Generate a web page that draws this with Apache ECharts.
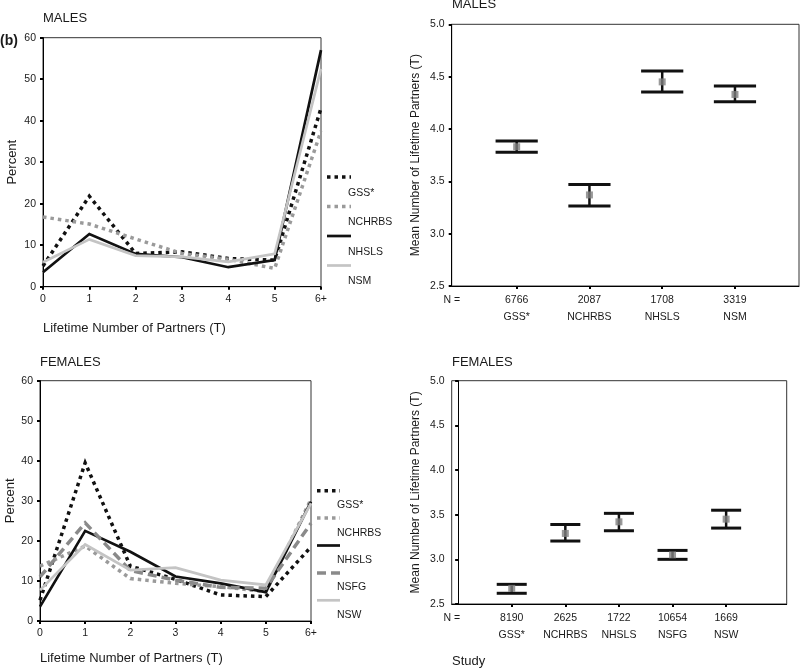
<!DOCTYPE html>
<html>
<head>
<meta charset="utf-8">
<script src="https://cdn.jsdelivr.net/npm/echarts@6/dist/echarts.min.js"></script>
<style>html,body{margin:0;padding:0;background:#fff}#c{width:800px;height:669px}</style>
</head>
<body>
<div id="c"></div>
<script>
// ---------- DATA ----------
const partnerCats = ['0','1','2','3','4','5','6+'];
const percentTicks = [0,10,20,30,40,50,60];

const maleGSS    = [5.0, 21.8, 8.0, 8.4, 6.8, 6.4, 43.0];
const maleNCHRBS = [16.8, 15.1, 11.5, 8.0, 6.6, 4.4, 37.5];
const maleNHSLS  = [3.5, 12.7, 7.9, 7.1, 4.7, 6.4, 57.0];
const maleNSM    = [5.9, 11.4, 7.5, 7.2, 6.0, 7.9, 52.5];

const femaleGSS    = [5.2, 39.5, 13.7, 10.4, 6.5, 6.1, 18.5];
const femaleNCHRBS = [13.7, 18.7, 10.6, 9.4, 8.6, 7.3, 30.4];
const femaleNHSLS  = [3.6, 22.5, 17.3, 11.1, 9.4, 7.2, 29.8];
const femaleNSFG   = [11.0, 24.5, 12.6, 10.2, 8.4, 8.2, 24.4];
const femaleNSW    = [7.7, 19.1, 12.7, 13.3, 10.2, 9.0, 29.4];

const maleStudies = ['GSS*','NCHRBS','NHSLS','NSM'];
const maleN       = ['6766','2087','1708','3319'];
const maleMean    = [3.83, 3.37, 4.45, 4.33];
const maleLow     = [3.777, 3.265, 4.354, 4.26];
const maleHigh    = [3.885, 3.47, 4.555, 4.41];

const femaleStudies = ['GSS*','NCHRBS','NHSLS','NSFG','NSW'];
const femaleN       = ['8190','2625','1722','10654','1669'];
const femaleMean    = [2.675, 3.29, 3.42, 3.05, 3.45];
const femaleLow     = [2.62, 3.205, 3.32, 3.00, 3.35];
const femaleHigh    = [2.72, 3.39, 3.515, 3.10, 3.55];

const meanTicks = [2.5, 3.0, 3.5, 4.0, 4.5, 5.0];

// ---------- STYLES ----------
const FONT = 'Liberation Sans, Arial, sans-serif';
const TXT = '#1a1a1a';
const styles = {
  GSS:    {color:'#111', width:3.5, type:[3.5,4]},
  NCHRBS: {color:'#9a9a9a', width:3.5, type:[3.5,4]},
  NHSLS:  {color:'#111', width:2.7, type:'solid'},
  NSM:    {color:'#c4c4c4', width:2.7, type:'solid'},
  NSFG:   {color:'#8a8a8a', width:3.5, type:[9,5]},
  NSW:    {color:'#c4c4c4', width:2.7, type:'solid'}
};

const maleLines = [
  {name:'GSS*', data:maleGSS, st:styles.GSS},
  {name:'NCHRBS', data:maleNCHRBS, st:styles.NCHRBS},
  {name:'NHSLS', data:maleNHSLS, st:styles.NHSLS},
  {name:'NSM', data:maleNSM, st:styles.NSM}
];
const femaleLines = [
  {name:'GSS*', data:femaleGSS, st:styles.GSS},
  {name:'NCHRBS', data:femaleNCHRBS, st:styles.NCHRBS},
  {name:'NHSLS', data:femaleNHSLS, st:styles.NHSLS},
  {name:'NSFG', data:femaleNSFG, st:styles.NSFG},
  {name:'NSW', data:femaleNSW, st:styles.NSW}
];

const chart = echarts.init(document.getElementById('c'), null, {renderer:'canvas'});

const grids = [
  {left:43, top:37.7, width:278, height:249},
  {left:451.7, top:24.3, width:347.3, height:261.7},
  {left:40, top:380.7, width:271, height:240.3},
  {left:451.7, top:380.7, width:335, height:223.3}
].map(g => Object.assign({show:true, borderColor:'#333', borderWidth:1, containLabel:false}, g));

const axisLineK = {show:true, lineStyle:{color:'#000', width:1}};
const tickK = {show:true, length:3, inside:false, lineStyle:{color:'#000', width:2}};
const lblK = {color:TXT, fontFamily:FONT, fontSize:10.5};

function catX(gi){
  return {gridIndex:gi, type:'category', data:partnerCats, boundaryGap:false,
    axisLine:axisLineK, axisTick:tickK, axisLabel:Object.assign({margin:7}, lblK), splitLine:{show:false}};
}
function pctY(gi, gap){
  return {gridIndex:gi, type:'value', min:percentTicks[0], max:percentTicks[percentTicks.length-1], interval:10,
    name:'Percent', nameLocation:'middle', nameGap:gap, nameRotate:90,
    nameTextStyle:{color:TXT, fontFamily:FONT, fontSize:13},
    axisLine:axisLineK, axisTick:tickK, axisLabel:Object.assign({margin:7}, lblK), splitLine:{show:false}};
}
function studyX(gi, min, max, studies, ns){
  const vals = [min].concat(studies.map((s,i)=>i+1));
  return {gridIndex:gi, type:'value', min:min, max:max,
    axisLine:axisLineK,
    axisTick:Object.assign({customValues:studies.map((s,i)=>i+1)}, tickK),
    axisLabel:Object.assign({margin:6, customValues:vals, lineHeight:17,
      formatter:function(v){ if (v < 0.5) return 'N ='; const i = Math.round(v)-1; return ns[i] + '\n' + studies[i]; }}, lblK),
    splitLine:{show:false}};
}
function meanY(gi){
  return {gridIndex:gi, type:'value', min:meanTicks[0], max:meanTicks[meanTicks.length-1], interval:0.5,
    name:'Mean Number of Lifetime Partners (T)', nameLocation:'middle', nameGap:30, nameRotate:90,
    nameTextStyle:{color:TXT, fontFamily:FONT, fontSize:12},
    axisLine:axisLineK, axisTick:tickK,
    axisLabel:Object.assign({margin:7, formatter:v=>v.toFixed(1)}, lblK), splitLine:{show:false}};
}

function lineSeries(list, gi){
  return list.map(l => ({type:'line', name:l.name, xAxisIndex:gi, yAxisIndex:gi, data:l.data,
    symbol:'none', smooth:false, animation:false,
    lineStyle:{color:l.st.color, width:l.st.width, type:l.st.type, cap:'butt', join:'miter'}}));
}
function errSeries(gi, low, high, capW){
  return {type:'custom', xAxisIndex:gi, yAxisIndex:gi, animation:false, z:2,
    data: low.map((v,i)=>[i+1, v, high[i]]),
    renderItem:function(params, api){
      const x = api.value(0);
      const lo = api.coord([x, api.value(1)]);
      const hi = api.coord([x, api.value(2)]);
      const w = api.size([capW, 0])[0];
      const st = {stroke:'#111', lineWidth:3};
      return {type:'group', children:[
        {type:'line', shape:{x1:lo[0], y1:lo[1], x2:hi[0], y2:hi[1]}, style:{stroke:'#111', lineWidth:2.5}},
        {type:'line', shape:{x1:lo[0]-w/2, y1:lo[1], x2:lo[0]+w/2, y2:lo[1]}, style:st},
        {type:'line', shape:{x1:hi[0]-w/2, y1:hi[1], x2:hi[0]+w/2, y2:hi[1]}, style:st}
      ]};
    }};
}
function meanSeries(gi, mean){
  return {type:'scatter', xAxisIndex:gi, yAxisIndex:gi, animation:false, z:5,
    data: mean.map((v,i)=>[i+1, v]), symbol:'rect', symbolSize:7,
    itemStyle:{color:'#808080'}};
}

// legend graphics built from the series lists
function legendGraphics(list, lx1, lx2, tx, y0, step){
  const out = [];
  list.forEach((l,i)=>{
    const yl = y0 + i*step;
    out.push({type:'line', shape:{x1:lx1, y1:yl, x2:lx2, y2:yl},
      style:{stroke:l.st.color, lineWidth:l.st.width, lineDash: Array.isArray(l.st.type)?l.st.type:null, lineCap:'butt'}});
    out.push({type:'text', left:tx, top:yl + step*0.55 - 6,
      style:{text:l.name, fill:TXT, font:'10.5px ' + FONT}});
  });
  return out;
}

function ttl(text, left, top, size, bold){
  return {text:text, left:left, top:top, padding:0,
    textStyle:{color:TXT, fontFamily:FONT, fontSize:size||13, fontWeight: bold?'bold':'normal'}};
}

const option = {
  backgroundColor:'#fff',
  animation:false,
  title:[
    ttl('MALES', 43, 12),
    ttl('(b)', 0, 34, 14, true),
    ttl('MALES', 452, -2),
    ttl('Lifetime Number of Partners (T)', 43, 322),
    ttl('FEMALES', 40, 356),
    ttl('FEMALES', 452, 356),
    ttl('Lifetime Number of Partners (T)', 40, 652),
    ttl('Study', 452, 655)
  ],
  grid:grids,
  xAxis:[catX(0), studyX(1, 0.107, 4.88, maleStudies, maleN), catX(2), studyX(3, -0.12, 6.13, femaleStudies, femaleN)],
  yAxis:[pctY(0, 24), meanY(1), pctY(2, 23), meanY(3)],
  series:[].concat(
    lineSeries(maleLines, 0),
    [errSeries(1, maleLow, maleHigh, 0.58), meanSeries(1, maleMean)],
    lineSeries(femaleLines, 2),
    [errSeries(3, femaleLow, femaleHigh, 0.56), meanSeries(3, femaleMean)]
  ),
  graphic: legendGraphics(maleLines, 327, 351, 348, 177, 29.5)
    .concat(legendGraphics(femaleLines, 317, 340, 337, 490.7, 27.4))
};
chart.setOption(option);
</script>
</body>
</html>
